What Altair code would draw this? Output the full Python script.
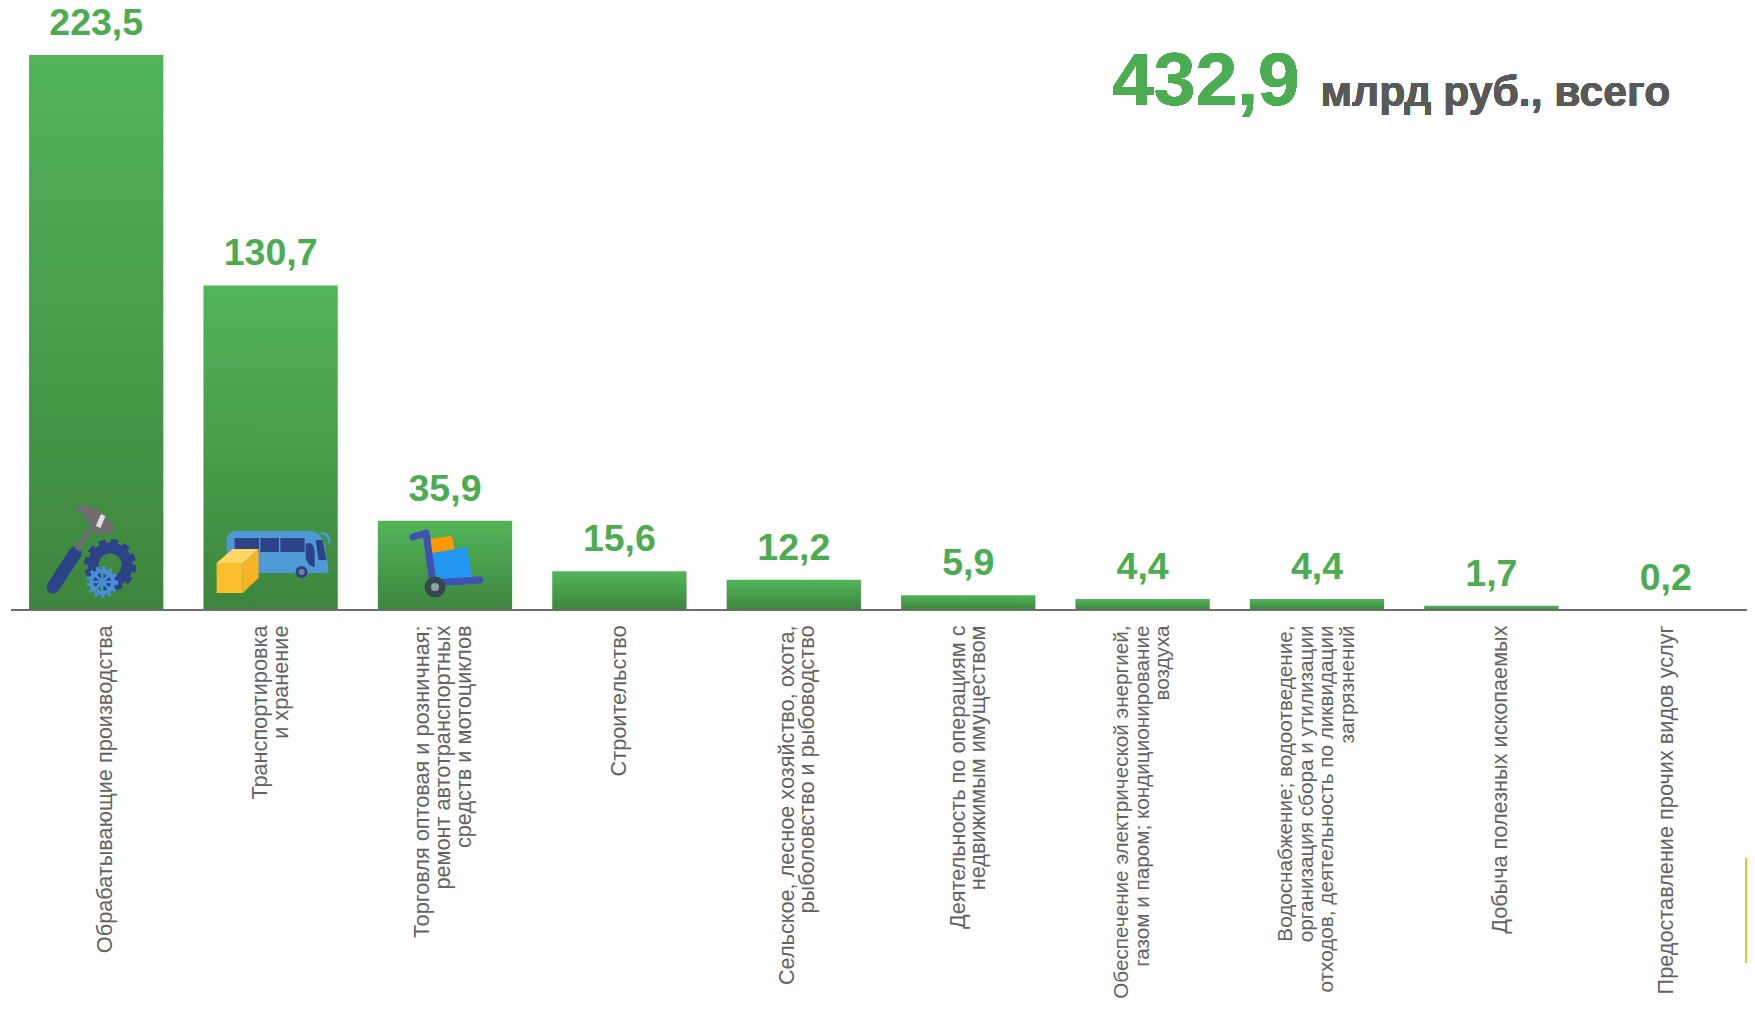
import base64
import altair as alt
import pandas as pd

categories = [
    "Обрабатывающие производства",
    "Транспортировка|и хранение",
    "Торговля оптовая и розничная;|ремонт автотранспортных|средств и мотоциклов",
    "Строительство",
    "Сельское, лесное хозяйство, охота,|рыболовство и рыбоводство",
    "Деятельность по операциям с|недвижимым имуществом",
    "Обеспечение электрической энергией,|газом и паром; кондиционирование|воздуха",
    "Водоснабжение; водоотведение,|организация сбора и утилизации|отходов, деятельность по ликвидации|загрязнений",
    "Добыча полезных ископаемых",
    "Предоставление прочих видов услуг",
]
values = [223.5, 130.7, 35.9, 15.6, 12.2, 5.9, 4.4, 4.4, 1.7, 0.2]
value_labels = ["223,5", "130,7", "35,9", "15,6", "12,2", "5,9", "4,4", "4,4", "1,7", "0,2"]

ICON_INDUSTRY = """<svg xmlns='http://www.w3.org/2000/svg' width='120' height='120' viewBox='0 0 120 120'>
<path d='M17 97L39 63' stroke='#2b4289' stroke-width='13' stroke-linecap='round' fill='none'/>
<path d='M41 60L53 40' stroke='#6d6d6d' stroke-width='6' fill='none'/>
<path d='M36 19C45 13 58 16 66 22L77 35Q78 44 70 44L58 44L48 26C44 22 40 20 36 19Z' fill='#6d6d6d'/>
<path d='M67 25L62 37' stroke='#e0e0e0' stroke-width='5' fill='none'/>
<circle cx='74' cy='75' r='17' fill='none' stroke='#2b4289' stroke-width='11'/>
<circle cx='74' cy='75' r='23' fill='none' stroke='#2b4289' stroke-width='6' stroke-dasharray='7 5.05'/>
<circle cx='66' cy='92' r='11' fill='none' stroke='#4a90d9' stroke-width='4'/>
<circle cx='66' cy='92' r='14' fill='none' stroke='#4a90d9' stroke-width='4' stroke-dasharray='3 3.6'/>
<path d='M55 92H77M66 81V103M58 84L74 100M74 84L58 100' stroke='#4a90d9' stroke-width='2.5'/>
</svg>"""

ICON_TRANSPORT = """<svg xmlns='http://www.w3.org/2000/svg' width='120' height='120' viewBox='0 0 120 120'>
<path d='M16 52Q16 41 27 41H100Q110 42 114 54L118 80Q118 83 114 83H16Z' fill='#4f9ad6'/>
<path d='M24 48H94V62H24Z' fill='#2b4289'/>
<path d='M49 48V62M69 48V62' stroke='#4f9ad6' stroke-width='1.5'/>
<path d='M95 54Q103 50 104 62L104 77Q96 76 95 66Z' fill='#2b4289'/>
<path d='M105 50L112 50L116 70L108 70Z' fill='#2b4289'/>
<path d='M110 43Q119 43 119 53' stroke='#4f9ad6' stroke-width='2.5' fill='none'/>
<circle cx='91' cy='82' r='6' fill='#2b4289'/><circle cx='91' cy='82' r='3' fill='#78808f'/>
<path d='M6 73L32 73L48 59L22 59Z' fill='#fdd663'/>
<path d='M32 73L48 59L48 88L32 103Z' fill='#f5b325'/>
<path d='M6 73H32V103H6Z' fill='#fbbf2d'/>
</svg>"""

ICON_TRADE = """<svg xmlns='http://www.w3.org/2000/svg' width='120' height='120' viewBox='0 0 120 120'>
<path d='M45 49L65 46Q67 46 68 50L70 62L47 66Z' fill='#ff9800'/>
<path d='M47 63L82 57L87 87L53 93Z' fill='#2196f3'/>
<path d='M28 47L41 43L48 93L95 90' stroke='#3f51b5' stroke-width='7' stroke-linecap='round' stroke-linejoin='round' fill='none'/>
<circle cx='50' cy='97' r='10.5' fill='#37474f'/><circle cx='50' cy='97' r='4' fill='#90a4ae'/>
</svg>"""

icons = [ICON_INDUSTRY, ICON_TRANSPORT, ICON_TRADE]
icon_urls = ["data:image/svg+xml;base64," + base64.b64encode(s.encode()).decode() for s in icons]

df = pd.DataFrame({"cat": categories, "value": values, "label": value_labels})
icon_df = pd.DataFrame({"cat": categories[:3], "zero": [0, 0, 0], "url": icon_urls})

FONT = "Liberation Sans"
GREEN = "#4cac52"
X_SCALE = alt.Scale(paddingInner=0.23, paddingOuter=0.115, range=[0, 1744])
Y_SCALE = alt.Scale(domain=[0, 242.4], nice=False)

x = alt.X(
    "cat:N",
    sort=None,
    title=None,
    scale=X_SCALE,
    axis=alt.Axis(
        domain=False,
        ticks=False,
        labelAngle=270,
        labelAlign="right",
        labelBaseline="middle",
        labelPadding=15,
        labelLimit=0,
        labelFont=FONT,
        labelFontSize={
            "condition": {
                "test": "indexof(datum.label, 'Обеспечение') === 0 || indexof(datum.label, 'Водоснабжение') === 0",
                "value": 20.7,
            },
            "value": 21.7,
        },
        labelOffset={
            "condition": {
                "test": "indexof(datum.label, 'Обрабатывающие') === 0 || indexof(datum.label, 'Добыча') === 0",
                "value": 9,
            },
            "expr": "-(length(split(datum.label, '|')) - 1) * 10.3"
                    " + (indexof(datum.label, 'Сельское') === 0 ? 3 : 0)"
                    " + (indexof(datum.label, 'Торговля') === 0 ? -2 : 0)",
        },
        labelLineHeight=20.6,
        labelColor="#636363",
        labelOverlap=False,
        labelExpr="split(datum.label, '|')",
    ),
)
y = alt.Y("value:Q", axis=None, scale=Y_SCALE)

bars = alt.Chart(df).mark_bar(
    color=alt.Gradient(
        gradient="linear",
        stops=[alt.GradientStop(color="#52b558", offset=0), alt.GradientStop(color="#3d853e", offset=1)],
        x1=0, x2=0, y1=0, y2=1,
    )
).encode(x=x, y=y)

text = alt.Chart(df).mark_text(
    font=FONT, fontSize=37.5, fontWeight="bold", color=GREEN, baseline="alphabetic", dy=-20
).encode(x=alt.X("cat:N", sort=None, scale=X_SCALE), y=y, text="label:N")

images = alt.Chart(icon_df).mark_image(width=120, height=120, baseline="bottom").encode(
    x=alt.X("cat:N", sort=None, scale=X_SCALE),
    y=alt.Y("zero:Q", axis=None, scale=Y_SCALE),
    url="url:N",
)

baseline = alt.Chart(df).mark_rule(color="#6e6e6e", strokeWidth=2).encode(
    x=alt.value(2), x2=alt.value(1738), y=alt.value(602)
)

total = alt.Chart(df).mark_text(
    font=FONT, fontSize=75, fontWeight="bold", color=GREEN, align="left", baseline="alphabetic"
).encode(x=alt.value(1103), y=alt.value(97), text=alt.value("432,9"))

unit = alt.Chart(df).mark_text(
    font=FONT, fontSize=42.7, fontWeight="bold", color="#595959", align="left", baseline="alphabetic"
).encode(x=alt.value(1311.5), y=alt.value(98), text=alt.value("млрд руб., всего"))

accent = alt.Chart(df).mark_rule(color="#fdb92e", strokeWidth=2).encode(
    x=alt.value(1737), y=alt.value(850), y2=alt.value(955)
)

chart = alt.layer(bars, baseline, text, images, total, unit, accent).properties(
    width=1738,
    height=602,
    padding={"left": 1, "top": 0, "right": 0, "bottom": 388},
    autosize=alt.AutoSizeParams(type="none"),
).configure_view(stroke=None)

chart.save("out.html", embed_options={"renderer": "svg", "actions": False})
